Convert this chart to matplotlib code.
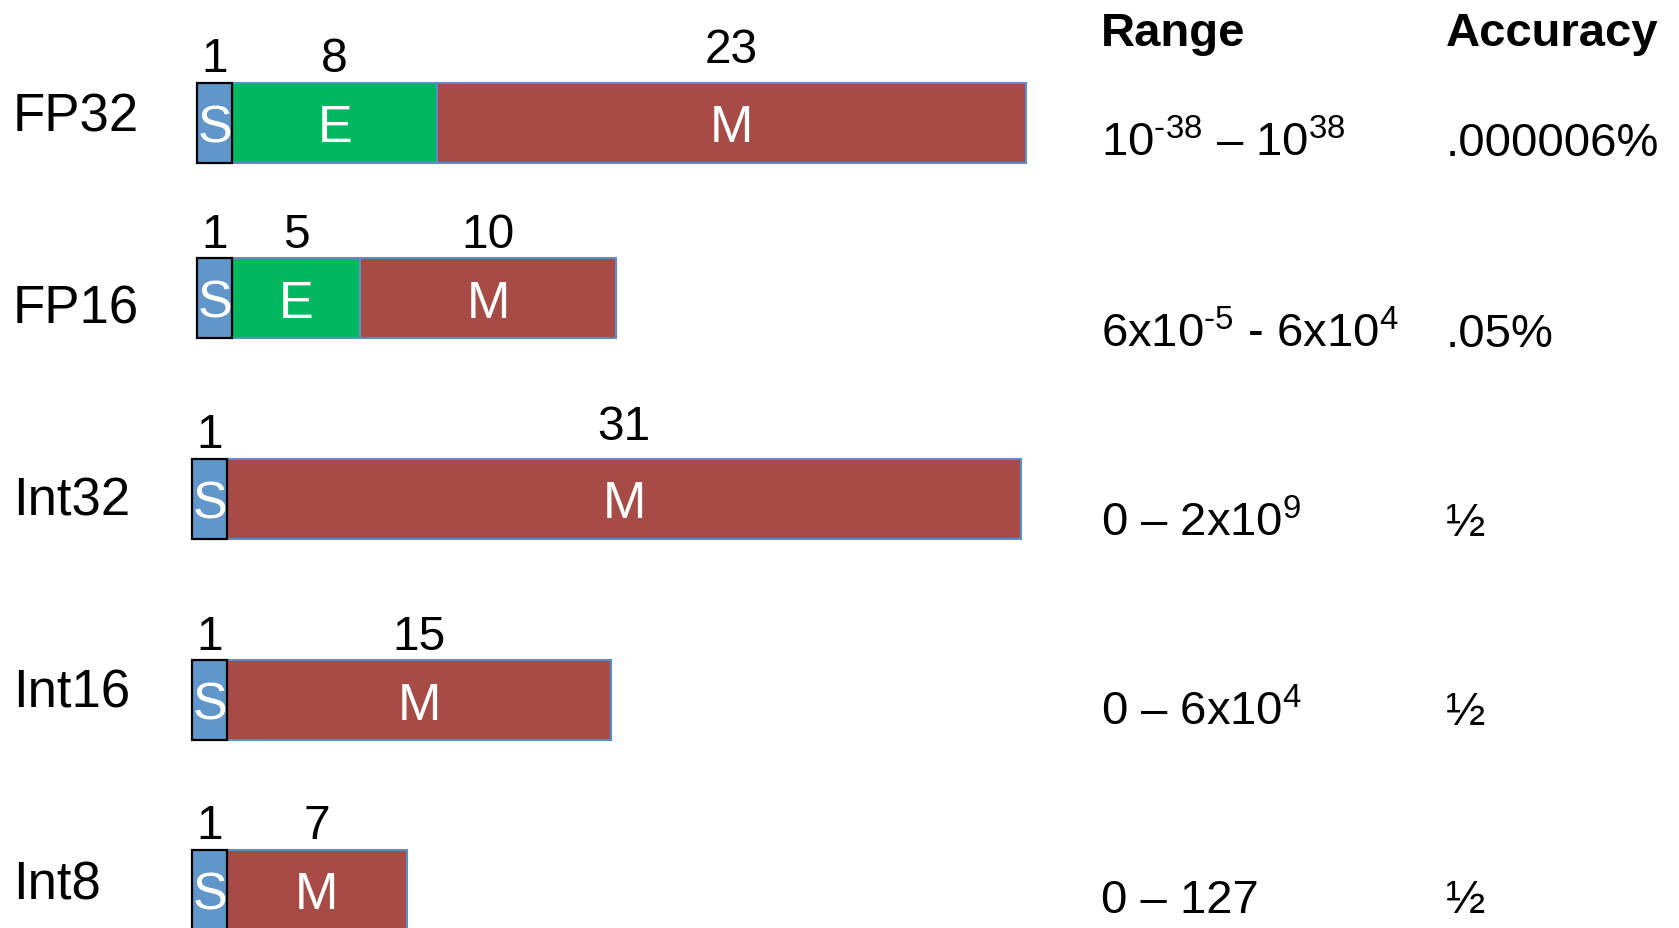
import matplotlib.pyplot as plt
from matplotlib.patches import Rectangle

plt.rcParams['font.family'] = ['Liberation Sans', 'DejaVu Sans']
plt.rcParams['mathtext.fontset'] = 'custom'
plt.rcParams['mathtext.rm'] = 'Liberation Sans'
plt.rcParams['mathtext.it'] = 'Liberation Sans:italic'
plt.rcParams['mathtext.bf'] = 'Liberation Sans:bold'

# number formats and their bit fields
formats = ['FP32', 'FP16', 'Int32', 'Int16', 'Int8']
sign_bits = [1, 1, 1, 1, 1]
exp_bits = [8, 5, 0, 0, 0]
mant_bits = [23, 10, 31, 15, 7]
ranges = [r'10$^{\text{-38}}$ – 10$^{38}$',
          r'6x10$^{\text{-5}}$ - 6x10$^{4}$',
          r'0 – 2x10$^{9}$',
          r'0 – 6x10$^{4}$',
          '0 – 127']
accuracy = ['.000006%', '.05%', '½', '½', '½']

# colours
c_sign = '#6096ca'
c_exp = '#00b860'
c_mant = '#a64b45'
c_edge = '#5b8fca'

W, H = 1679, 929
PX_PER_BIT = 25.6
X0 = 194          # pixel column of bit 0
SIGN_W = 1.38     # sign box drawn a little wider than one bit so the S fits

# layout (pixels from top)
box_top = [83.5, 259, 460, 661, 851]
box_h = 80
box_left = [3, 3, -2, -2, -2]
label_y = [117, 310, 501, 693, 886]
text_base = [156.5, 347, 536.5, 725, 913.5]
num_lift = [24, 24, 24, 24, 24]

fig = plt.figure(figsize=(W / 100, H / 100), dpi=100)
ax = fig.add_axes([0, 0, 1, 1])
ax.set_xlim(-X0 / PX_PER_BIT, (W - X0) / PX_PER_BIT)
ax.set_ylim(H, 0)
ax.axis('off')

for i, name in enumerate(formats):
    top = box_top[i]
    x = box_left[i] / PX_PER_BIT
    yc = top + box_h / 2
    fields = [('S', SIGN_W, sign_bits[i], c_sign)]
    if exp_bits[i]:
        fields.append(('E', exp_bits[i], exp_bits[i], c_exp))
    fields.append(('M', mant_bits[i], mant_bits[i], c_mant))

    for letter, w, bits, col in fields:
        if letter == 'S':
            ec, lw, z = 'black', 1.6, 3
        else:
            ec, lw, z = c_edge, 1.5, 2
        ax.add_patch(Rectangle((x, top), w, box_h, facecolor=col,
                               edgecolor=ec, linewidth=lw, zorder=z))
        ax.text(x + w / 2, yc + 5, letter, color='white', fontsize=37.5,
                ha='center', va='center', zorder=4)
        # the long mantissa counts sit a bit higher
        lift = num_lift[i] + (9 if letter == 'M' and bits > 20 else 0)
        ax.text(x + w / 2, top - lift, str(bits), color='black',
                fontsize=34.5, ha='center', va='center')
        x += w

    fig.text(13 / W, 1 - label_y[i] / H, name, fontsize=38,
             ha='left', va='center')
    fig.text(1101 / W, 1 - text_base[i] / H, ranges[i], fontsize=34,
             ha='left', va='baseline')
    fig.text(1446 / W, 1 - text_base[i] / H, accuracy[i], fontsize=34,
             ha='left', va='baseline')

fig.text(1101 / W, 1 - 46 / H, 'Range', fontsize=34, fontweight='bold',
         ha='left', va='baseline')
fig.text(1446 / W, 1 - 46 / H, 'Accuracy', fontsize=34, fontweight='bold',
         ha='left', va='baseline')

fig.savefig('out.png', dpi=100)
